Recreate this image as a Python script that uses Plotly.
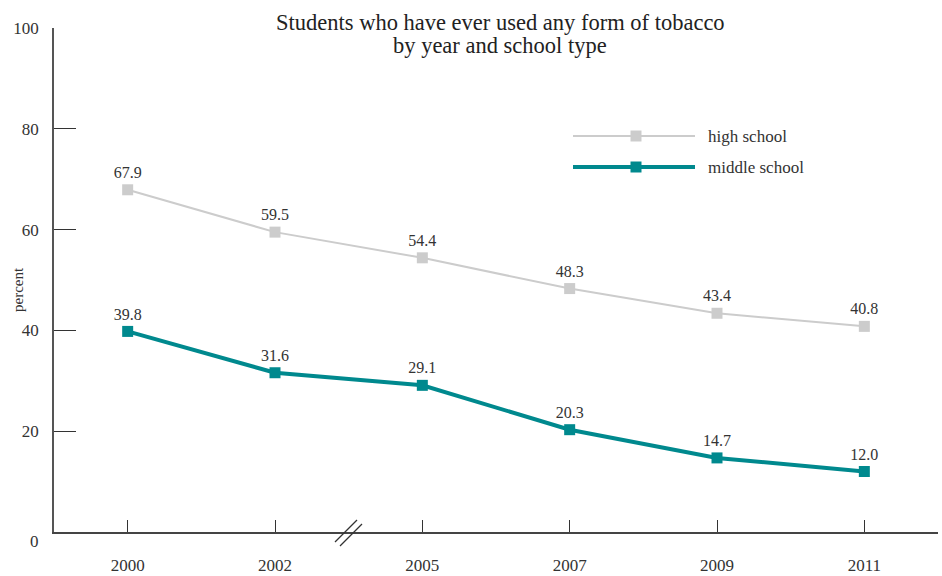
import plotly.graph_objects as go

years = ["2000", "2002", "2005", "2007", "2009", "2011"]
high_school = [67.9, 59.5, 54.4, 48.3, 43.4, 40.8]
middle_school = [39.8, 31.6, 29.1, 20.3, 14.7, 12.0]
y_ticks = [0, 20, 40, 60, 80, 100]
y_tick_labels = ["0", "20", "40", "60", "80", "100"]
title_lines = ["Students who have ever used any form of tobacco", "by year and school type"]

GRAY = "#cccccc"
TEAL = "#00898e"
TXT = "#333333"
FONT = "Liberation Serif"

L, R, T, B = 54, 4, 28, 44
W, H = 942, 576
PW, PH = W - L - R, H - T - B

def px(x):
    return (x - L) / PW

def py(y):
    return (H - B - y) / PH

fig = go.Figure()
fig.add_trace(go.Scatter(
    x=years, y=high_school, mode="lines+markers+text",
    text=[f"{v:.1f}" for v in high_school], textposition="top center",
    textfont=dict(family=FONT, size=16, color=TXT),
    line=dict(color=GRAY, width=2),
    marker=dict(symbol="square", size=11, color=GRAY),
    name="high school", showlegend=False, cliponaxis=False, hoverinfo="skip"))
fig.add_trace(go.Scatter(
    x=years, y=middle_school, mode="lines+markers+text",
    text=[f"{v:.1f}" for v in middle_school], textposition="top center",
    textfont=dict(family=FONT, size=16, color=TXT),
    line=dict(color=TEAL, width=4),
    marker=dict(symbol="square", size=11, color=TEAL),
    name="middle school", showlegend=False, cliponaxis=False, hoverinfo="skip"))

shapes = []
# legend samples
for yy, col, wd in [(136, GRAY, 2), (167, TEAL, 4)]:
    shapes.append(dict(type="line", xref="paper", yref="paper",
                       x0=px(573), x1=px(695), y0=py(yy), y1=py(yy),
                       line=dict(color=col, width=wd)))
    shapes.append(dict(type="rect", xref="paper", yref="paper",
                       x0=px(636 - 5.5), x1=px(636 + 5.5),
                       y0=py(yy + 5.5), y1=py(yy - 5.5),
                       line=dict(width=0), fillcolor=col))
# axis break marks
for dx, dy in [(0, 0), (5, 4)]:
    shapes.append(dict(type="line", xref="paper", yref="paper",
                       x0=px(335 + dx), y0=py(542 + dy),
                       x1=px(357 + dx), y1=py(520 + dy),
                       line=dict(color="#333333", width=1.2)))

annotations = [
    dict(text=title_lines[0], xref="paper", yref="paper", x=px(500), y=py(22),
         xanchor="center", yanchor="middle", showarrow=False,
         font=dict(family=FONT, size=22.5, color="#222222")),
    dict(text=title_lines[1], xref="paper", yref="paper", x=px(500), y=py(46),
         xanchor="center", yanchor="middle", showarrow=False,
         font=dict(family=FONT, size=22.5, color="#222222")),
    dict(text="percent", xref="paper", yref="paper", x=px(18), y=py(290),
         textangle=-90, showarrow=False, xanchor="center", yanchor="middle",
         font=dict(family=FONT, size=15, color=TXT)),
    dict(text="high school", xref="paper", yref="paper", x=px(706), y=py(136),
         xanchor="left", yanchor="middle", showarrow=False,
         font=dict(family=FONT, size=17, color=TXT)),
    dict(text="middle school", xref="paper", yref="paper", x=px(706), y=py(167),
         xanchor="left", yanchor="middle", showarrow=False,
         font=dict(family=FONT, size=17, color=TXT)),
    # the "0" label sits a little below the x axis in the reference
    dict(text=y_tick_labels[0], xref="paper", yref="y", x=px(41), y=y_ticks[0],
         yshift=-9, xanchor="right", yanchor="middle", showarrow=False,
         font=dict(family=FONT, size=17, color=TXT)),
]

fig.update_layout(
    width=W, height=H,
    margin=dict(l=L, r=R, t=T, b=B, autoexpand=False),
    paper_bgcolor="white", plot_bgcolor="white",
    font=dict(family=FONT, size=15, color=TXT),
    shapes=shapes, annotations=annotations, showlegend=False,
    hovermode=False,
    xaxis=dict(type="category", range=[-0.5, 5.5], showgrid=False,
               showline=True, linecolor="#444444", linewidth=1.5,
               ticks="inside", ticklen=12, tickcolor="#333333", tickwidth=1.2,
               ticklabelstandoff=17, zeroline=False, automargin=False,
               tickfont=dict(family=FONT, size=17, color=TXT)),
    yaxis=dict(range=[0, 100], tickvals=y_ticks,
               ticktext=[""] + y_tick_labels[1:], showgrid=False,
               showline=True, linecolor="#555555", linewidth=1.5,
               ticks="inside", ticklen=22, tickcolor="#333333", tickwidth=1.2,
               ticklabelstandoff=10, zeroline=False, automargin=False,
               tickfont=dict(family=FONT, size=17, color=TXT)),
)

fig.write_html("out.html", config={"displayModeBar": False},
               post_script="document.body.style.margin='0';document.body.style.overflow='hidden';")
